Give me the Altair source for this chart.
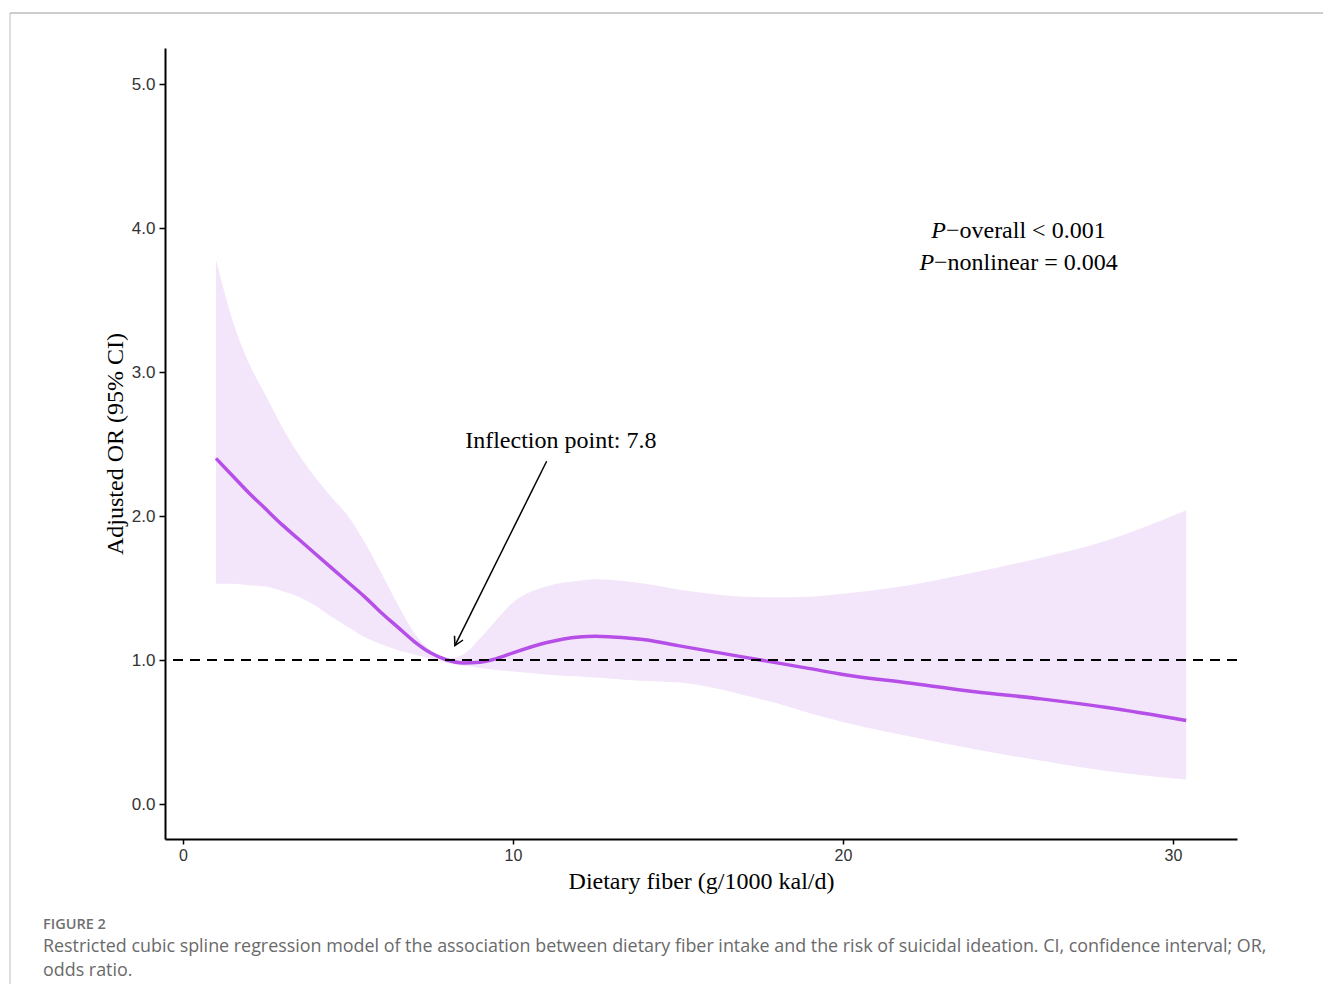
import altair as alt
import pandas as pd

# ---- data ----
fiber = [1, 1.5, 2, 2.5, 3, 3.5, 4, 4.5, 5, 5.5, 6, 6.5, 7, 7.5, 8, 8.5, 9, 9.5,
         10, 11, 12, 12.5, 13, 14, 15, 16, 17, 18, 19, 20, 22, 24, 26, 28, 30.4]
odds = [2.40, 2.28, 2.16, 2.05, 1.94, 1.84, 1.74, 1.64, 1.54, 1.44, 1.33, 1.23, 1.13, 1.05,
        1.00, 0.98, 0.985, 1.01, 1.05, 1.12, 1.16, 1.165, 1.16, 1.14, 1.10, 1.06, 1.02,
        0.98, 0.94, 0.90, 0.84, 0.78, 0.73, 0.67, 0.58]
upper = [3.78, 3.36, 3.06, 2.84, 2.62, 2.43, 2.27, 2.13, 2.00, 1.82, 1.61, 1.39, 1.19, 1.07,
         1.01, 1.04, 1.15, 1.28, 1.40, 1.51, 1.55, 1.56, 1.555, 1.53, 1.49, 1.46, 1.44,
         1.435, 1.44, 1.46, 1.52, 1.61, 1.71, 1.83, 2.04]
lower = [1.53, 1.53, 1.52, 1.51, 1.48, 1.44, 1.38, 1.30, 1.23, 1.16, 1.11, 1.07, 1.04, 1.01,
         0.98, 0.96, 0.945, 0.93, 0.92, 0.90, 0.885, 0.878, 0.87, 0.855, 0.845, 0.81, 0.755,
         0.70, 0.63, 0.57, 0.47, 0.38, 0.30, 0.23, 0.17]
ref_or = [1.0]
x_ticks = [0, 10, 20, 30]
y_ticks = [0, 1, 2, 3, 4, 5]

arrow_x = [11.02, 8.24]
arrow_y = [2.38, 1.10]
arrow_label = "Inflection point: 7.8"
arrow_label_xy = [11.45, 2.52]

p_lines = ["\u2212overall < 0.001", "\u2212nonlinear = 0.004"]
p_split_x = [23.12, 22.76]
p_y = [3.98, 3.76]

fig_label = "FIGURE 2"
caption = [
    "Restricted cubic spline regression model of the association between dietary fiber intake and the risk of suicidal ideation. CI, confidence interval; OR,",
    "odds ratio.",
]

df = pd.DataFrame({"x": fiber, "y": odds, "lo": lower, "hi": upper})

xs = alt.Scale(domain=[-0.545, 31.94], nice=False, zero=False)
ys = alt.Scale(domain=[-0.243, 5.25], nice=False, zero=False)

X = alt.X("x:Q", scale=xs, title="Dietary fiber (g/1000 kal/d)",
          axis=alt.Axis(values=x_ticks, format="d", labelFontSize=16, titleFontSize=24,
                        titleFont="Liberation Serif", titlePadding=6, labelPadding=3, tickSize=5))
Y = alt.Y("lo:Q", scale=ys, title="Adjusted OR (95% CI)",
          axis=alt.Axis(values=y_ticks, format=".1f", labelFontSize=17, titleFontSize=24,
                        titleFont="Liberation Serif", titlePadding=4, labelPadding=4, tickSize=6))

band = alt.Chart(df).mark_area(color="#f3e6fa", opacity=1, interpolate="monotone").encode(
    x=X, y=Y, y2="hi:Q")

line = alt.Chart(df).mark_line(color="#b54fe8", strokeWidth=3.5, interpolate="monotone").encode(
    x="x:Q", y="y:Q")

hline = alt.Chart(pd.DataFrame({"y": ref_or})).mark_rule(
    color="black", strokeWidth=2, strokeDash=[10, 7]).encode(y=alt.Y("y:Q", scale=ys))

arr_df = pd.DataFrame({"x": arrow_x, "y": arrow_y, "o": [0, 1]})
arrow = alt.Chart(arr_df).mark_line(color="black", strokeWidth=1.5).encode(
    x="x:Q", y="y:Q", order="o:Q")
head = alt.Chart(arr_df.iloc[[1]]).mark_point(
    shape="M -1 -0.55 L 0 0 L -1 0.55", filled=False, stroke="black", strokeWidth=1.5,
    size=300, angle=116.6, opacity=1).encode(x="x:Q", y="y:Q")

lab = alt.Chart(pd.DataFrame({"x": [arrow_label_xy[0]], "y": [arrow_label_xy[1]], "t": [arrow_label]})).mark_text(
    font="Liberation Serif", fontSize=24, color="black", align="center", baseline="middle").encode(
    x="x:Q", y="y:Q", text="t:N")

p_df = pd.DataFrame({"x": p_split_x, "y": p_y, "t": p_lines, "p": ["P", "P"]})
p_it = alt.Chart(p_df).mark_text(font="Liberation Serif", fontStyle="italic", fontSize=24,
                                 color="black", align="right", baseline="middle").encode(
    x="x:Q", y="y:Q", text="p:N")
p_rest = alt.Chart(p_df).mark_text(font="Liberation Serif", fontSize=24, color="black",
                                   align="left", baseline="middle").encode(
    x="x:Q", y="y:Q", text="t:N")

# caption below the plot (pixel positions relative to plot origin)
cap_fig = alt.Chart(pd.DataFrame({"t": [fig_label]})).mark_text(
    font="Open Sans", fontSize=14.5, fontWeight=600, color="#707070", align="left", baseline="middle").encode(
    x=alt.value(-122), y=alt.value(877), text="t:N")
cap1 = alt.Chart(pd.DataFrame({"t": [caption[0]]})).mark_text(
    font="Open Sans", fontSize=17.9, color="#6a6a6a", align="left", baseline="middle").encode(
    x=alt.value(-122), y=alt.value(899), text="t:N")
cap2 = alt.Chart(pd.DataFrame({"t": [caption[1]]})).mark_text(
    font="Open Sans", fontSize=17.9, color="#6a6a6a", align="left", baseline="middle").encode(
    x=alt.value(-122), y=alt.value(923), text="t:N")

# figure frame (top and left grey lines)
frame_top = alt.Chart(pd.DataFrame({"a": [0]})).mark_rule(color="#bdbdbd", strokeWidth=1.5).encode(
    x=alt.value(-155), x2=alt.value(1160), y=alt.value(-35))
frame_left = alt.Chart(pd.DataFrame({"a": [0]})).mark_rule(color="#bdbdbd", strokeWidth=1).encode(
    x=alt.value(-155), y=alt.value(-35), y2=alt.value(940))

chart = alt.layer(band, line, hline, arrow, head, lab, p_it, p_rest,
                  cap_fig, cap1, cap2, frame_top, frame_left).properties(
    width=1072, height=791,
    padding={"left": 157, "top": 40, "right": 86, "bottom": 145},
    autosize=alt.AutoSizeParams(type="none"),
).configure_view(stroke=None).configure_axis(
    grid=False, domainColor="black", domainWidth=2, tickColor="black", tickWidth=1.5,
    labelFont="Liberation Sans", labelColor="#333333", titleColor="black",
    titleFontWeight="normal",
)

chart.save("out.html", embed_options={"renderer": "svg", "actions": False})
